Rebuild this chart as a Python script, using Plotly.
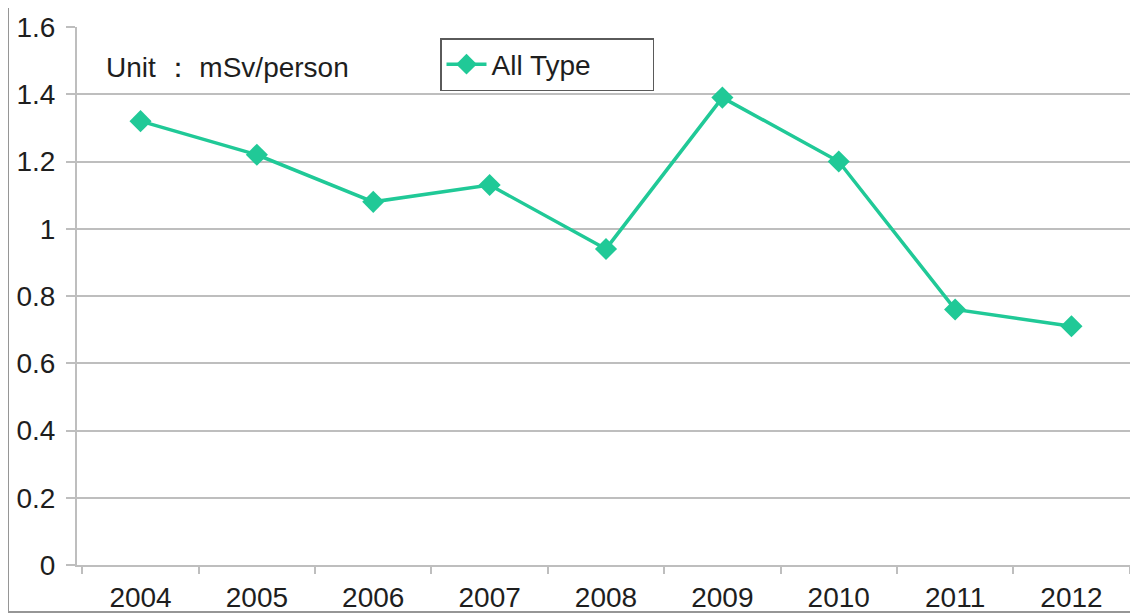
import plotly.graph_objects as go

# Annual average dose, all types
years = ["2004", "2005", "2006", "2007", "2008", "2009", "2010", "2011", "2012"]
dose = [1.32, 1.22, 1.08, 1.13, 0.94, 1.39, 1.20, 0.76, 0.71]

_LINE = "rgb(32, 201, 151)"
_GRID = "rgb(190, 190, 190)"
_FONT = dict(family="Liberation Sans, Arial, sans-serif", size=28, color="rgb(30, 30, 30)")

# the page body keeps its default 8px margin, so the figure is shifted
OFF = 8
W, H = 1138, 615
L, R, T, B = 77, 3, 27, 50
pw, ph = W - L - R, H - T - B

fig = go.Figure()
fig.add_trace(go.Scatter(
    x=years,
    y=dose,
    mode="lines+markers",
    name="All Type\u2003\u2003",
    line=dict(color=_LINE, width=3.5),
    marker=dict(symbol="diamond", size=17, color=_LINE),
))

fig.update_layout(
    width=W - OFF,
    height=H - OFF,
    margin=dict(l=L - OFF, r=R, t=T - OFF, b=B),
    paper_bgcolor="white",
    plot_bgcolor="white",
    font=_FONT,
    xaxis=dict(
        type="category",
        showgrid=False,
        showline=True,
        linecolor=_GRID,
        linewidth=2,
        ticks="outside",
        tickson="boundaries",
        ticklen=7,
        tickcolor=_GRID,
        tickwidth=2,
        tickfont=_FONT,
        ticklabelstandoff=6,
    ),
    yaxis=dict(
        range=[0, 1.6],
        tickvals=[0, 0.2, 0.4, 0.6, 0.8, 1.0, 1.2, 1.4, 1.6],
        ticktext=["0", "0.2", "0.4", "0.6", "0.8", "1", "1.2", "1.4", "1.6"],
        showgrid=True,
        gridcolor=_GRID,
        gridwidth=2,
        zeroline=False,
        showline=True,
        linecolor=_GRID,
        linewidth=2,
        ticks="outside",
        ticklen=9,
        tickcolor=_GRID,
        tickwidth=2,
        tickfont=_FONT,
        ticklabelstandoff=5,
    ),
    legend=dict(
        x=(440 - L) / pw,
        y=(H - B - 38) / ph,
        xanchor="left",
        yanchor="top",
        bordercolor="rgb(90, 90, 90)",
        borderwidth=1.5,
        bgcolor="white",
        font=_FONT,
        itemwidth=40,
        indentation=0,
    ),
    showlegend=True,
    annotations=[dict(
        text="Unit \uff1a mSv/person",
        x=(104 - L) / pw,
        y=(H - B - 68) / ph,
        xref="paper",
        yref="paper",
        xanchor="left",
        yanchor="middle",
        showarrow=False,
        font=_FONT,
    )],
    shapes=[dict(
        type="rect",
        xref="paper",
        yref="paper",
        x0=(8 - L) / pw,
        x1=(W - 1 - L) / pw,
        y0=(H - B - 612) / ph,
        y1=(H - B - 7) / ph,
        line=dict(color="rgb(150, 150, 150)", width=2),
        layer="below",
    )],
)

fig.write_html("out.html")
